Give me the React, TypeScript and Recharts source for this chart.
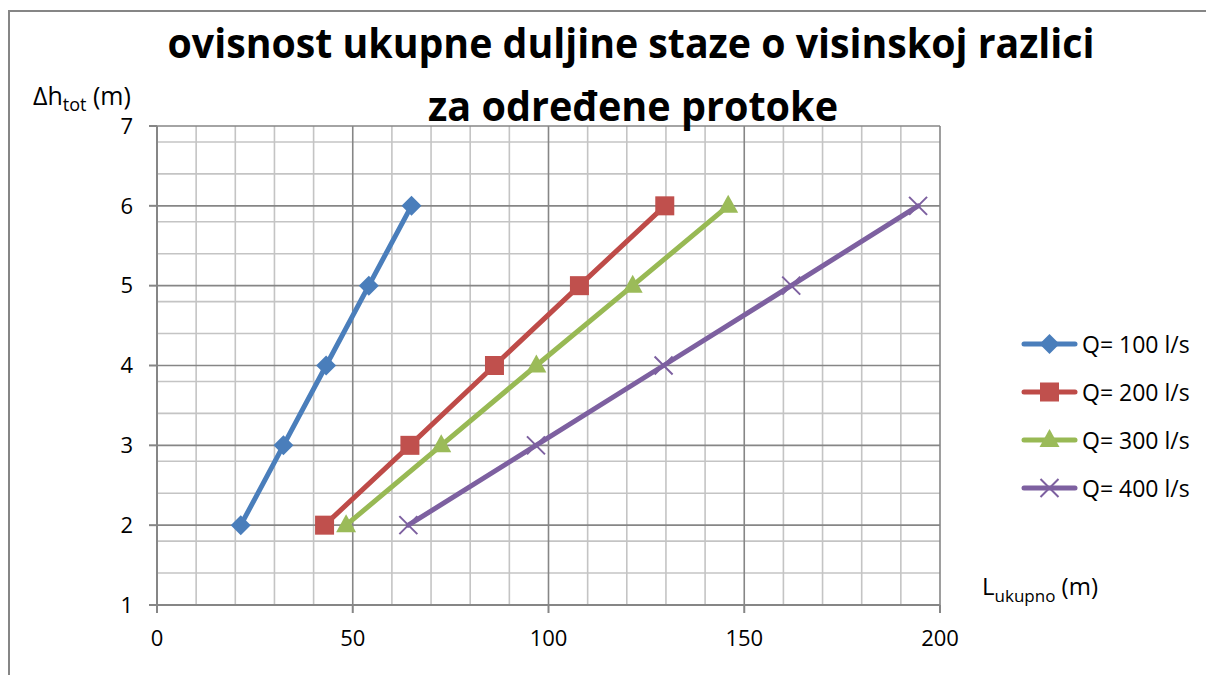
import React from 'react';
import { LineChart, Line, XAxis, YAxis, CartesianGrid } from 'recharts';

// visinska razlika (m)
const heights = [2, 3, 4, 5, 6];

// ukupna duljina staze (m) po protoku
const lenQ100 = [21.4, 32.3, 43.2, 54.1, 65.0];
const lenQ200 = [42.8, 64.6, 86.2, 107.9, 129.7];
const lenQ300 = [48.3, 72.6, 96.9, 121.5, 145.9];
const lenQ400 = [64.2, 96.8, 129.4, 162.0, 194.4];

const seriesNames = ['Q= 100 l/s', 'Q= 200 l/s', 'Q= 300 l/s', 'Q= 400 l/s'];
const xTicks = [0, 50, 100, 150, 200];
const yTicks = [1, 2, 3, 4, 5, 6, 7];

const xMinor = Array.from({ length: 21 }, (_, i) => i * 10).filter((v) => v % 50 !== 0);
const yMinor = Array.from({ length: 31 }, (_, i) => Math.round((1 + i * 0.2) * 10) / 10).filter(
  (v) => Math.abs(v - Math.round(v)) > 0.01
);

const FONT = '"Open Sans", "Liberation Sans", sans-serif';
const AXIS = '#868686';

type Shape = 'diamond' | 'square' | 'triangle' | 'cross';

const series = [
  { name: seriesNames[0], xs: lenQ100, line: '#4A7EBB', mark: '#4A7EBB', shape: 'diamond' as Shape },
  { name: seriesNames[1], xs: lenQ200, line: '#BE4B48', mark: '#C0504D', shape: 'square' as Shape },
  { name: seriesNames[2], xs: lenQ300, line: '#98B954', mark: '#9BBB59', shape: 'triangle' as Shape },
  { name: seriesNames[3], xs: lenQ400, line: '#7D60A0', mark: '#7D60A0', shape: 'cross' as Shape },
];

function marker(shape: Shape, cx: number, cy: number, color: string, key?: string) {
  if (shape === 'diamond') {
    return <path key={key} d={`M${cx} ${cy - 10}L${cx + 10} ${cy}L${cx} ${cy + 10}L${cx - 10} ${cy}Z`} fill={color} />;
  }
  if (shape === 'square') {
    return <rect key={key} x={cx - 9.5} y={cy - 9.5} width={19} height={19} fill={color} />;
  }
  if (shape === 'triangle') {
    return <path key={key} d={`M${cx} ${cy - 11}L${cx + 10} ${cy + 7}L${cx - 10} ${cy + 7}Z`} fill={color} />;
  }
  return (
    <path
      key={key}
      d={`M${cx - 9} ${cy - 9}L${cx + 9} ${cy + 9}M${cx + 9} ${cy - 9}L${cx - 9} ${cy + 9}`}
      stroke={color}
      strokeWidth={2}
      fill="none"
    />
  );
}

export default function App() {
  return (
    <div style={{ position: 'relative', width: 1206, height: 667, fontFamily: FONT, overflow: 'hidden' }}>
      <style>{'html,body{overflow:hidden}'}</style>
      <div
        style={{
          position: 'absolute',
          left: 0,
          top: 2,
          width: 1206,
          height: 665,
          borderTop: `2px solid ${AXIS}`,
          borderLeft: `2px solid ${AXIS}`,
          boxSizing: 'border-box',
        }}
      />
      <div style={{ position: 'absolute', left: 0, top: 0 }}>
        <LineChart width={1206} height={659} margin={{ top: 118, right: 274, bottom: 22, left: 89 }}>
          <CartesianGrid stroke="#c4c4c4" strokeWidth={1.6} verticalValues={xMinor} horizontalValues={yMinor} />
          <CartesianGrid
            stroke={AXIS}
            strokeWidth={1.6}
            verticalValues={[50, 100, 150, 200]}
            horizontalValues={[2, 3, 4, 5, 6, 7]}
          />
          <XAxis
            type="number"
            dataKey="x"
            domain={[0, 200]}
            ticks={xTicks}
            allowDataOverflow
            height={40}
            tickSize={8}
            tickMargin={17}
            axisLine={{ stroke: AXIS, strokeWidth: 2 }}
            tickLine={{ stroke: AXIS, strokeWidth: 2 }}
            tick={{ fill: '#000', fontSize: 22, fontFamily: FONT }}
          />
          <YAxis
            type="number"
            dataKey="y"
            domain={[1, 7]}
            ticks={yTicks}
            allowDataOverflow
            width={60}
            tickSize={8}
            tickMargin={16}
            axisLine={{ stroke: AXIS, strokeWidth: 2 }}
            tickLine={{ stroke: AXIS, strokeWidth: 2 }}
            tick={{ fill: '#000', fontSize: 22, fontFamily: FONT }}
          />
          {series.map((s) => (
            <Line
              key={s.name}
              name={s.name}
              data={s.xs.map((x, i) => ({ x, y: heights[i] }))}
              dataKey="y"
              type="linear"
              stroke={s.line}
              strokeWidth={5}
              strokeLinejoin="round"
              strokeLinecap="round"
              isAnimationActive={false}
              activeDot={false}
              dot={(p: any) => marker(s.shape, p.cx, p.cy, s.mark, `${s.name}-${p.index}`)}
            />
          ))}
        </LineChart>
      </div>
      <svg
        width={1206}
        height={659}
        style={{ position: 'absolute', left: 0, top: 0, pointerEvents: 'none', fontFamily: FONT }}
      >
        <text x={623} y={50} textAnchor="middle" fontSize={41} fontWeight={700} textLength={927} lengthAdjust="spacingAndGlyphs">
          ovisnost ukupne duljine staze o visinskoj razlici
        </text>
        <text x={625} y={113} textAnchor="middle" fontSize={41} fontWeight={700} textLength={410} lengthAdjust="spacingAndGlyphs">
          za određene protoke
        </text>
        <text x={25} y={97} fontSize={25}>
          Δh
          <tspan fontSize={18} dy={6}>tot</tspan>
          <tspan fontSize={25} dy={-6}> (m)</tspan>
        </text>
        <text x={974} y={587} fontSize={24}>
          L
          <tspan fontSize={17} dy={7}>ukupno</tspan>
          <tspan fontSize={24} dy={-7}> (m)</tspan>
        </text>
        {series.map((s, i) => {
          const y = 336 + i * 48;
          return (
            <g key={s.name}>
              <line x1={1016} y1={y} x2={1067} y2={y} stroke={s.line} strokeWidth={5} strokeLinecap="round" />
              {marker(s.shape, 1041.5, y, s.mark)}
              <text x={1074} y={y} dominantBaseline="central" fontSize={23}>
                {s.name}
              </text>
            </g>
          );
        })}
      </svg>
    </div>
  );
}
